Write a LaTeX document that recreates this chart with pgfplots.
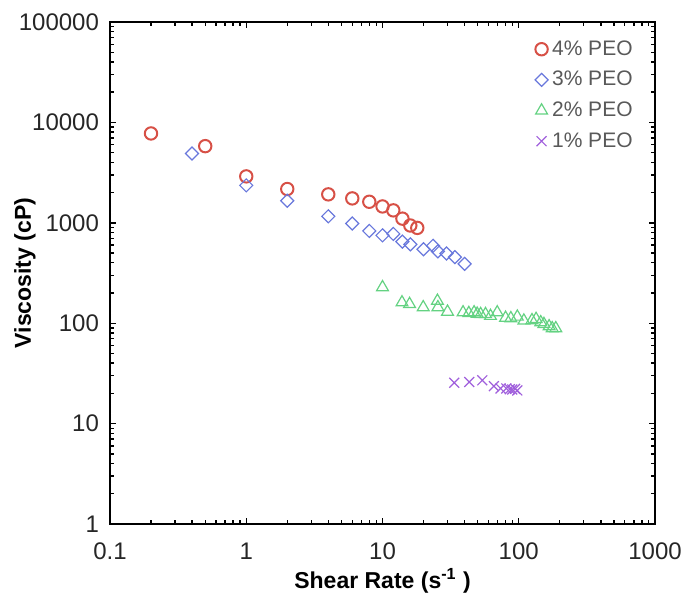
\documentclass[border=0pt]{standalone}
\usepackage{pgfplots}
\pgfplotsset{compat=1.18}
\usepackage{fontspec}
\setmainfont{Liberation Sans}
\definecolor{cred}{RGB}{215,80,70}
\definecolor{cblue}{RGB}{105,120,220}
\definecolor{cgreen}{RGB}{100,210,130}
\definecolor{cpurple}{RGB}{160,95,220}
\definecolor{tgray}{RGB}{89,89,89}
\begin{document}
\begin{tikzpicture}
\path[use as bounding box] (-55pt,-35.5pt) rectangle (286.5pt,262pt);
\begin{axis}[
  at={(0,0)}, anchor=south west,
  scale only axis, width=272.5pt, height=251pt,
  xmode=log, ymode=log,
  xmin=0.1, xmax=1000, ymin=1, ymax=100000,
  xtick={0.1,1,10,100,1000},
  xticklabels={0.1,1,10,100,1000},
  ytick={1,10,100,1000,10000,100000},
  yticklabels={1,10,100,1000,10000,100000},
  minor xtick={0.2,0.3,0.4,0.5,0.6,0.7,0.8,0.9,2,3,4,5,6,7,8,9,20,30,40,50,60,70,80,90,200,300,400,500,600,700,800,900},
  minor ytick={2,3,4,5,6,7,8,9,20,30,40,50,60,70,80,90,200,300,400,500,600,700,800,900,2000,3000,4000,5000,6000,7000,8000,9000,20000,30000,40000,50000,60000,70000,80000,90000},
  tick align=inside,
  major tick length=3pt, minor tick length=2pt,
  every tick/.style={black, line width=0.7pt},
  axis line style={black, line width=1pt},
  /pgf/number format/assume math mode=true,
  ticklabel style={font=\fontsize{12}{14}\selectfont, text=black!85},
  xticklabel style={yshift=-6pt},
  yticklabel style={xshift=-2pt},
  xlabel={\textbf{Shear Rate (s\textsuperscript{-1} )}},
  ylabel={\textbf{Viscosity (cP)}},
  label style={font=\fontsize{11.5}{13}\selectfont},
  xlabel style={at={(axis description cs:0.5,-0.1135)}, anchor=center},
  ylabel style={at={(axis description cs:-0.156,0.5)}, anchor=center, rotate=0},
  legend style={at={(1,1)}, anchor=north east, xshift=-6pt, yshift=-5pt,
    draw=none, fill=none, font=\fontsize{10.5}{12}\selectfont, text=tgray,
    row sep=2.5pt},
  legend cell align=left,
  legend image post style={xshift=3.5pt},
]
\addplot[only marks, mark=o, mark size=3.1pt, draw=cred, line width=1pt] coordinates {
(0.2,7760) (0.5,5800) (1,2900) (2,2170) (4,1920) (6,1750) (8,1620) (10,1455) (12,1330) (14,1100) (16,940) (18,890)
};
\addlegendentry{4\% PEO}
\addplot[only marks, mark=square, mark options={rotate=45}, mark size=2.3pt, draw=cblue, line width=0.6pt] coordinates {
(0.4,4900) (1,2360) (2,1660) (4,1160) (6,985) (8,830) (10,750) (12,775) (14,650) (16,610) (20,545) (23.5,590) (25.5,520) (29.5,495) (34,455) (40,390)
};
\addlegendentry{3\% PEO}
\addplot[only marks, mark=triangle, mark size=3.4pt, draw=cgreen, line width=0.6pt] coordinates {
(10,228) (13.9,161) (15.8,155) (19.9,144) (25.3,167) (25.5,144) (30,130) (39,128) (43,126) (47,128) (49.5,124) (52.5,123) (57,123) (62,118) (69.5,128) (80,113) (87.5,112) (97.6,116) (109,106) (125,107) (134,110) (145,102) (153,98) (167,93) (176,89) (187,89)
};
\addlegendentry{2\% PEO}
\addplot[only marks, mark=x, mark size=3.5pt, draw=cpurple, line width=0.6pt] coordinates {
(33.6,25.5) (43.3,26) (54,27) (65.7,23.6) (73.5,22.4) (81,22.4) (86,22) (89.6,21.9) (94,22.2) (97.6,21.4)
};
\addlegendentry{1\% PEO}
\end{axis}
\end{tikzpicture}
\end{document}
